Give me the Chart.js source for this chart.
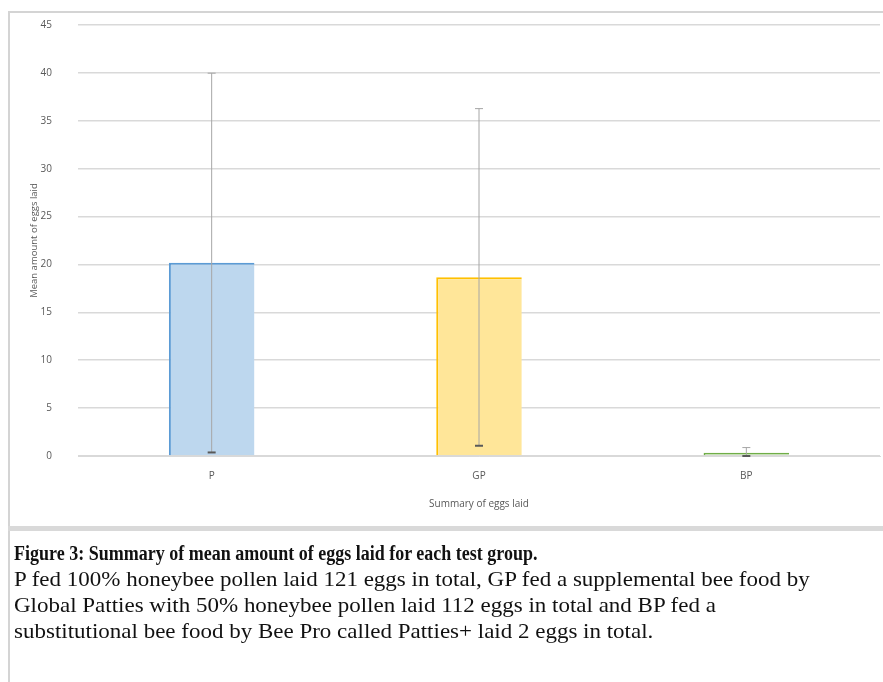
<!DOCTYPE html>
<html>
<head>
<meta charset="utf-8">
<script src="https://cdn.jsdelivr.net/npm/chart.js@4"></script>
<style>
  body { margin: 0; background: #fff; width: 883px; height: 682px; overflow: hidden; position: relative; }
  #panel { position: absolute; left: 8px; top: 11px; width: 875px; height: 514px; border-top: 2px solid #d4d4d4; border-left: 2px solid #d4d4d4; }
  #sep { position: absolute; left: 8px; top: 526px; width: 875px; height: 5px; background: #d9d9d9; }
  #cap { position: absolute; left: 8px; top: 531px; width: 875px; height: 151px; border-left: 2px solid #d4d4d4; }
  #chartBox { position: absolute; left: 0; top: -20px; width: 873px; height: 534px; }
  .txt { position: absolute; left: 4px; top: 9px; font-family: "Liberation Serif", "Times New Roman", serif; color: #111; white-space: nowrap; }
  .head { font-weight: bold; font-size: 18px; line-height: 26px; transform: scaleY(1.2); transform-origin: left center; }
  .body { font-size: 22px; line-height: 26px; transform: scaleX(1.045); transform-origin: left top; }
</style>
</head>
<body>
<div id="panel"><div id="chartBox"><canvas id="myChart"></canvas></div></div>
<div id="sep"></div>
<div id="cap">
  <div class="txt">
    <div class="head">Figure 3: Summary of mean amount of eggs laid for each test group.</div>
    <div class="body">P fed 100% honeybee pollen laid 121 eggs in total, GP fed a supplemental bee food by<br>
    Global Patties with 50% honeybee pollen laid 112 eggs in total and BP fed a<br>
    substitutional bee food by Bee Pro called Patties+ laid 2 eggs in total.</div>
  </div>
</div>
<script>
// DATA
var groups = ["P", "GP", "BP"];
var meanEggs = [20.17, 18.67, 0.33];
var errEggs = [19.8, 17.6, 0.55];
var yTicks = [0, 5, 10, 15, 20, 25, 30, 35, 40, 45];

var fillColors = ["#bdd7ee", "#ffe699", "#c5e0b4"];
var lineColors = ["#5b9bd5", "#ffc000", "#70ad47"];

// error bars drawn on top of the bars
var errorBars = {
  id: "errorBars",
  afterDatasetsDraw: function(chart) {
    var ctx = chart.ctx;
    var xs = chart.scales.x;
    var ys = chart.scales.y;
    ctx.save();
    for (var i = 0; i < groups.length; i++) {
      var x = xs.getPixelForValue(i);
      var top = ys.getPixelForValue(meanEggs[i] + errEggs[i]);
      var low = Math.max(0, meanEggs[i] - errEggs[i]);
      var bot = ys.getPixelForValue(low);
      ctx.strokeStyle = "#a6a6a6";
      ctx.lineWidth = 1;
      ctx.beginPath();
      ctx.moveTo(x, top); ctx.lineTo(x, bot);
      ctx.moveTo(x - 4, top); ctx.lineTo(x + 4, top);
      ctx.stroke();
      ctx.strokeStyle = "#595959";
      ctx.lineWidth = 2;
      ctx.beginPath();
      ctx.moveTo(x - 4, bot); ctx.lineTo(x + 4, bot);
      ctx.stroke();
    }
    ctx.restore();
  }
};

const mainChart = new Chart("myChart", {
  type: "bar",
  data: {
    labels: groups,
    datasets: [{
      data: meanEggs,
      backgroundColor: fillColors,
      borderColor: lineColors,
      borderWidth: { top: 2, left: 2, right: 0, bottom: 0 },
      categoryPercentage: 1,
      barPercentage: 0.32
    }]
  },
  options: {
    responsive: true,
    maintainAspectRatio: false,
    animation: false,
    layout: { padding: { top: 0, right: 3, bottom: 13, left: 19 } },
    plugins: {
      legend: { display: false },
      tooltip: { enabled: false }
    },
    scales: {
      x: {
        grid: { display: false, drawTicks: false },
        border: { color: "#d9d9d9" },
        ticks: { color: "#595959", font: { family: "Open Sans", size: 10 }, padding: 14 },
        title: { display: true, text: "Summary of eggs laid", color: "#595959", font: { family: "Open Sans", size: 10 }, padding: { top: 2 } }
      },
      y: {
        min: 0,
        max: 45,
        afterBuildTicks: function(axis) { axis.ticks = yTicks.map(function(v) { return { value: v }; }); },
        afterFit: function(axis) { axis.width = 49; },
        grid: { color: "#d9d9d9", lineWidth: 1.5, drawTicks: false },
        border: { display: false },
        ticks: { color: "#595959", font: { family: "Open Sans", size: 10 }, padding: 26 },
        title: { display: true, text: "Mean amount of eggs laid", color: "#595959", font: { family: "Open Sans", size: 9.5 }, padding: { top: 0, bottom: 0 } }
      }
    }
  },
  plugins: [errorBars]
});
</script>
</body>
</html>
